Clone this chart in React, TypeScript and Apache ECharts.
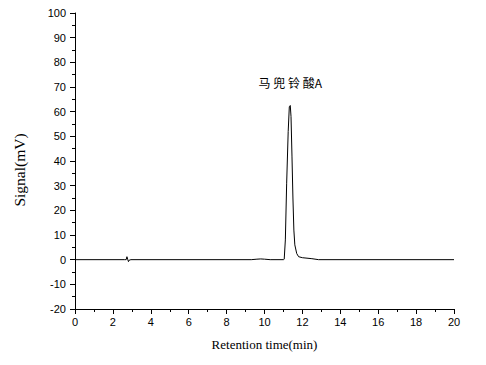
import React, { useEffect, useRef } from "react";
import * as echarts from "echarts";

const times = [0, 2.6, 2.7, 2.74, 2.78, 2.82, 2.86, 2.95, 9.3, 9.6, 9.8, 10.0, 10.3, 11.0, 11.04, 11.1, 11.17, 11.25, 11.31, 11.36, 11.4, 11.45, 11.5, 11.55, 11.6, 11.7, 11.8, 12.0, 12.5, 12.85, 20];
const signal = [0, 0, 0, 1.2, 0.2, -0.8, -0.2, 0, 0, 0.2, 0.3, 0.2, 0, 0, 0.2, 8, 31, 52, 62, 62.5, 58, 42, 25, 12, 6, 2.5, 1.2, 0.8, 0.4, 0, 0];
const peakLabel = "马兜铃酸A";
const peakTime = 11.36;
const peakValue = 62.5;

export default function App() {
  const ref = useRef<HTMLDivElement>(null);
  useEffect(() => {
    const chart = echarts.init(ref.current!, null, { renderer: "svg" });
    const axisLabel = { color: "#000", fontFamily: "Liberation Sans, Arial", fontSize: 11 };
    const spaced = peakLabel.slice(0, 3).split("").join(" ") + " " + peakLabel.slice(3);
    chart.setOption({
      animation: false,
      backgroundColor: "#fff",
      grid: { left: 75, right: 32, top: 13, bottom: 56 },
      xAxis: {
        type: "value",
        min: 0,
        max: 20,
        interval: 2,
        name: "Retention time(min)",
        nameLocation: "middle",
        nameGap: 29,
        nameTextStyle: { color: "#000", fontFamily: "Liberation Serif, Times New Roman", fontSize: 13 },
        axisLine: { show: true, onZero: false, lineStyle: { color: "#000", width: 1 } },
        axisTick: { show: true, inside: false, length: 5, lineStyle: { color: "#000" } },
        minorTick: { show: true, splitNumber: 2, length: 3, lineStyle: { color: "#000" } },
        splitLine: { show: false },
        axisLabel: { ...axisLabel, margin: 7 },
      },
      yAxis: {
        type: "value",
        min: -20,
        max: 100,
        interval: 10,
        name: "Signal(mV)",
        nameLocation: "middle",
        nameGap: 48,
        nameTextStyle: {
          color: "#000",
          fontFamily: "Liberation Serif, Times New Roman",
          fontSize: 15.5,
          padding: [0, 18, 0, 0],
        },
        axisLine: { show: true, onZero: false, lineStyle: { color: "#000", width: 1 } },
        axisTick: { show: true, inside: false, length: 5, lineStyle: { color: "#000" } },
        minorTick: { show: true, splitNumber: 2, length: 3, lineStyle: { color: "#000" } },
        splitLine: { show: false },
        axisLabel: { ...axisLabel, margin: 9 },
      },
      series: [
        {
          type: "line",
          data: times.map((t, i) => [t, signal[i]]),
          showSymbol: false,
          symbol: "none",
          lineStyle: { color: "#000", width: 1 },
          markPoint: {
            symbol: "circle",
            symbolSize: 0,
            data: [
              {
                coord: [peakTime, peakValue],
                label: {
                  show: true,
                  formatter: spaced,
                  position: "top",
                  offset: [0, -12],
                  color: "#000",
                  fontSize: 12,
                  fontFamily: "Noto Sans CJK SC",
                },
              },
            ],
          },
        },
      ],
    });
    return () => chart.dispose();
  }, []);
  return <div ref={ref} style={{ width: 486, height: 365, margin: -8 }} />;
}
